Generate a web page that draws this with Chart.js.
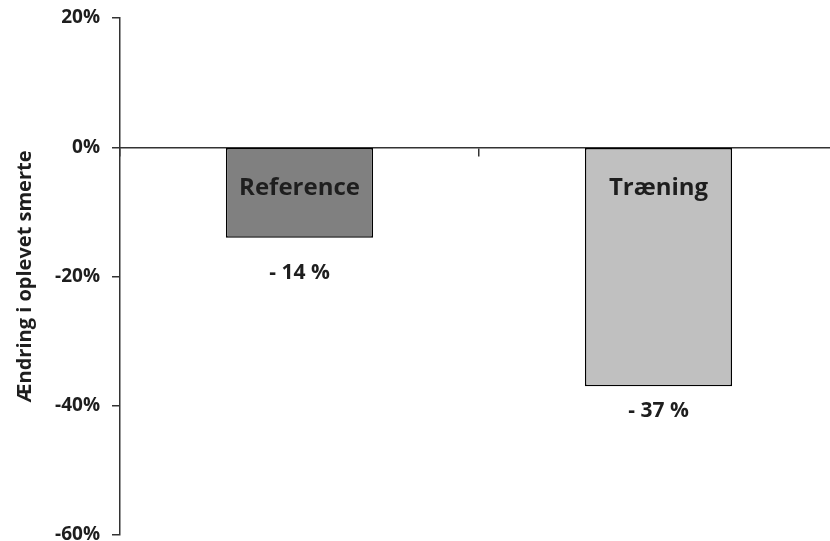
<!DOCTYPE html>
<html>
<head>
<meta charset="utf-8">
<script src="https://cdn.jsdelivr.net/npm/chart.js@4.4.1/dist/chart.umd.min.js"></script>
<style>
    html, body { margin: 0; padding: 0; background: #fff; overflow: hidden; }
    #wrap { width: 838px; height: 541px; }
</style>
</head>
<body>
<div id="wrap"><canvas id="painChart" width="838" height="541"></canvas></div>
<script>
const groups = ["Reference", "Træning"];
const changePct = [-14, -37];
const valueLabels = ["- 14 %", "- 37 %"];
const yTicks = [20, 0, -20, -40, -60];
const barColors = ["#808080", "#c0c0c0"];

const FONT = "'Open Sans', Lato, sans-serif";
const TEXT = "#1e1e1e";
const AXIS = "#333333";
// gap between the bottom of each bar and its value text
const valueGap = [35, 25];

// Draws the group name inside each bar and the change value beneath it
const barText = {
    id: "barText",
    afterDatasetsDraw(chart) {
        const ctx = chart.ctx;
        const bars = chart.getDatasetMeta(0).data;
        ctx.save();
        ctx.fillStyle = TEXT;
        ctx.textAlign = "center";
        ctx.textBaseline = "middle";
        bars.forEach((bar, i) => {
            ctx.font = "bold 24px " + FONT;
            ctx.fillText(groups[i], bar.x, bar.base + 40);
            ctx.font = "bold 21px " + FONT;
            ctx.fillText(valueLabels[i], bar.x, bar.y + valueGap[i]);
        });
        ctx.restore();
    }
};

new Chart(document.getElementById("painChart"), {
    type: "bar",
    data: {
        labels: groups,
        datasets: [{
            data: changePct,
            backgroundColor: barColors,
            borderColor: "#000",
            borderWidth: 1.5,
            borderSkipped: false,
            categoryPercentage: 0.41,
            barPercentage: 1
        }]
    },
    options: {
        responsive: false,
        animation: false,
        events: [],
        layout: { padding: { top: 18, right: 0, bottom: 6, left: 0 } },
        plugins: {
            legend: { display: false },
            tooltip: { enabled: false }
        },
        scales: {
            x: {
                position: { y: 0 },
                afterFit: scale => {
                    scale.paddingLeft = 0;
                    scale.paddingRight = 0;
                },
                grid: {
                    drawOnChartArea: false,
                    drawTicks: true,
                    tickLength: 8,
                    color: AXIS,
                    lineWidth: 1.5
                },
                border: { color: AXIS, width: 1.5 },
                ticks: { display: false }
            },
            y: {
                min: -60,
                max: 20,
                afterBuildTicks: scale => {
                    scale.ticks = yTicks.map(v => ({ value: v }));
                },
                afterFit: scale => {
                    scale.width = 120;
                    scale.paddingTop = 0;
                    scale.paddingBottom = 0;
                },
                grid: {
                    drawOnChartArea: false,
                    tickLength: 8,
                    color: AXIS,
                    lineWidth: 1.5
                },
                border: { color: AXIS, width: 1.5 },
                ticks: {
                    padding: 12,
                    color: TEXT,
                    font: { family: FONT, size: 19, weight: "bold" },
                    callback: v => v + "%"
                },
                title: {
                    display: true,
                    text: "Ændring i oplevet smerte",
                    color: TEXT,
                    font: { family: FONT, size: 20, weight: "bold" },
                    padding: { top: 13, bottom: 0 }
                }
            }
        }
    },
    plugins: [barText]
});
</script>
</body>
</html>
